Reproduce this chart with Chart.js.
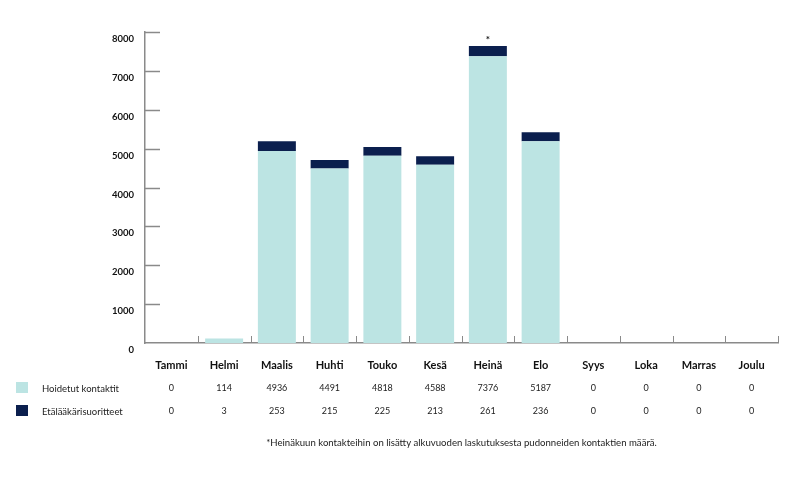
<!DOCTYPE html>
<html><head><meta charset="utf-8">
<script src="https://cdn.jsdelivr.net/npm/chart.js@4"></script>
<style>html,body{margin:0;padding:0;background:#fff}#w{width:795px;height:477px;position:relative}</style>
</head><body><div id="w"><canvas id="c"></canvas></div>
<script>
const categories = ["Tammi","Helmi","Maalis","Huhti","Touko","Kesä","Heinä","Elo","Syys","Loka","Marras","Joulu"];
const hoidetut = [0,114,4936,4491,4818,4588,7376,5187,0,0,0,0];
const etalaakari = [0,3,253,215,225,213,261,236,0,0,0,0];
const seriesNames = ["Hoidetut kontaktit","Etälääkärisuoritteet"];
const yTicks = [0,1000,2000,3000,4000,5000,6000,7000,8000];
const footnote = "*Heinäkuun kontakteihin on lisätty alkuvuoden laskutuksesta pudonneiden kontaktien määrä.";
const starIndex = 6;

const C1 = "#bce4e3", C2 = "#0b1f4e", AX = "#8a8a8a";
const FONT = "Lato, 'DejaVu Sans', sans-serif";

const extras = {
  id: "extras",
  afterDraw(chart) {
    const ctx = chart.ctx, x = chart.scales.x, y = chart.scales.y, ca = chart.chartArea;
    ctx.save();
    ctx.strokeStyle = AX; ctx.lineWidth = 1.5;
    yTicks.forEach(v => {
      if (v === 0) return;
      const py = Math.round(y.getPixelForValue(v)) + 0.5;
      ctx.beginPath(); ctx.moveTo(ca.left, py); ctx.lineTo(ca.left + 15, py); ctx.stroke();
    });
    ctx.lineWidth = 1;
    for (let i = 1; i <= categories.length; i++) {
      const px = Math.round(x.getPixelForValue(i - 0.5)) + 0.5;
      ctx.beginPath(); ctx.moveTo(px, ca.bottom); ctx.lineTo(px, ca.bottom - 7); ctx.stroke();
    }
    const bar = chart.getDatasetMeta(1).data[starIndex];
    ctx.fillStyle = "#111"; ctx.textAlign = "center"; ctx.textBaseline = "alphabetic";
    ctx.font = "bold 10px " + FONT;
    ctx.fillText("*", bar.x, bar.y - 3);
    const rows = [hoidetut, etalaakari];
    const colors = [C1, C2];
    const rowY = [388, 411];
    rows.forEach((r, ri) => {
      ctx.fillStyle = colors[ri];
      ctx.fillRect(16, rowY[ri] - 6, 12, 11);
      ctx.fillStyle = "#222"; ctx.textAlign = "left"; ctx.textBaseline = "middle";
      ctx.font = "9.5px " + FONT;
      ctx.fillText(seriesNames[ri], 42, rowY[ri] + 1);
      ctx.textAlign = "center"; ctx.font = "9px " + FONT;
      r.forEach((v, i) => ctx.fillText(String(v), x.getPixelForValue(i), rowY[ri]));
    });
    ctx.font = "9.6px " + FONT; ctx.textAlign = "center";
    ctx.fillText(footnote, (ca.left + ca.right) / 2, 443);
    ctx.restore();
  }
};

new Chart(document.getElementById("c"), {
  type: "bar",
  data: {
    labels: categories,
    datasets: [
      { label: seriesNames[0], data: hoidetut, backgroundColor: C1, borderWidth: 0 },
      { label: seriesNames[1], data: etalaakari, backgroundColor: C2, borderWidth: 0 }
    ]
  },
  options: {
    responsive: true, maintainAspectRatio: false, animation: false,
    layout: { padding: { left: 0, right: 17, top: 32, bottom: 104 } },
    plugins: { legend: { display: false }, tooltip: { enabled: false } },
    scales: {
      x: {
        stacked: true,
        afterFit(s) { s.height = 30; },
        grid: { display: false, drawTicks: false },
        border: { display: true, color: AX, width: 1.5 },
        ticks: { color: "#111", padding: 16, font: { family: FONT, size: 11, weight: "bold" } }
      },
      y: {
        stacked: true, min: 0, max: 8000,
        afterFit(s) { s.width = 145; },
        afterBuildTicks(s) { s.ticks = yTicks.map(v => ({ value: v })); },
        grid: { display: false, drawTicks: false },
        border: { display: true, color: AX, width: 1.5 },
        ticks: { color: "#111", padding: 11, labelOffset: 7, callback: v => String(v),
                 font: { family: FONT, size: 9.5, weight: "bold" } }
      }
    }
  },
  plugins: [extras]
});
</script></body></html>
